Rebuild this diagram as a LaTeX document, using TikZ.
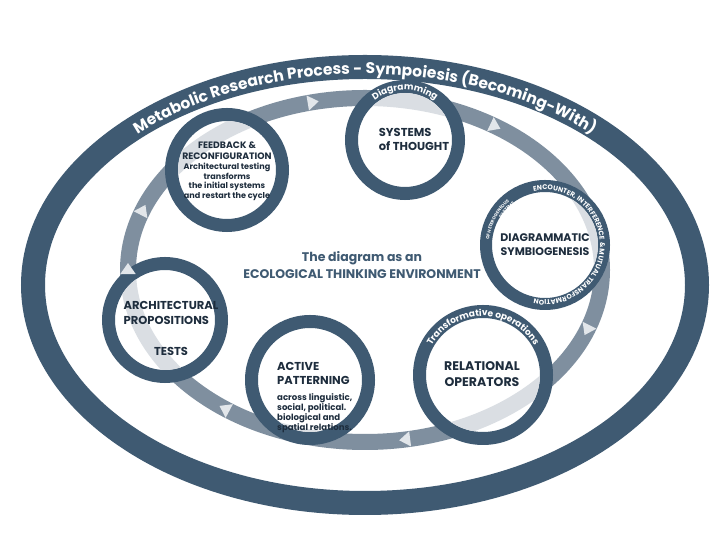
\documentclass[tikz,border=0pt]{standalone}
\usepackage{fontspec}
\setmainfont{Poppins}
\usetikzlibrary{decorations.text,shapes.geometric}
\definecolor{navy}{HTML}{3F5A72}
\definecolor{ink}{HTML}{1E2D3D}
\definecolor{band}{HTML}{7F8F9F}
\definecolor{bandlt}{HTML}{DADEE3}
\definecolor{tip}{HTML}{E2E6EA}
\tikzset{
  ring/.style={circle,draw=navy,line width=13pt,fill=white,inner sep=0pt},
  ttl/.style={text=ink,font=\bfseries\fontsize{11.5}{14}\selectfont,align=center,inner sep=0pt},
  sub/.style={text=ink,font=\bfseries\fontsize{8.6}{10}\selectfont,align=center,inner sep=0pt},
  tipsty/.style={isosceles triangle,isosceles triangle apex angle=70,fill=tip,inner sep=0pt,minimum height=11pt,minimum width=13pt},
}
\begin{document}
\begin{tikzpicture}[x=1pt,y=1pt]
\useasboundingbox (0,0) rectangle (720,540);
\fill[white] (0,0) rectangle (720,540);
% outer ellipse
\draw[navy,line width=24pt] (365,255) ellipse [x radius=332,y radius=218];
\path[decorate,decoration={text along path,text align=center,
  text={|\color{white}\bfseries\fontsize{15.5}{15.5}\selectfont|Metabolic Research Process - Sympoiesis (Becoming-With)}}]
  (365,255) ++(165:325 and 211) arc[start angle=165,end angle=15,x radius=325,y radius=211];
% band
\draw[band,line width=16pt] (365,270) ellipse [x radius=237,y radius=172];
% circles
\foreach \n/\x/\y/\r/\w in {F/227/370/62/13,S/405/400/60/13,D/545/295/65/12,A/165/220/63/13,P/310/160/65/13,R/483/165/70/13}{
  \node[ring,line width=\w pt,minimum size={2*\r-\w}] (\n) at (\x,\y) {};
  \begin{scope}
    \clip (\x,\y) circle ({\r-\w});
    \draw[bandlt,line width=16pt] (365,270) ellipse [x radius=237,y radius=172];
  \end{scope}
}
% arrow tips
\foreach \t in {103,57,-20,-80,-126,180,160}{
  \node[tipsty,rotate={atan2(-172*cos(\t),237*sin(\t))}] at ({365+237*cos(\t)},{270+172*sin(\t)}) {};
}
% texts in circles
\node[ttl,font=\bfseries\fontsize{9.3}{11.3}\selectfont] (Ft) at (227,389) {FEEDBACK \&\\RECONFIGURATION};
\node[sub,anchor=north,font=\bfseries\fontsize{8.1}{9.6}\selectfont] (Fs) at (227,377) {Architectural testing\\transforms\\the initial systems\\and restart the cycle};
\node[ttl,align=left] (St) at (414,401) {SYSTEMS\\of THOUGHT};
\node[ttl,font=\bfseries\fontsize{11}{14}\selectfont] (Dt) at (545,295) {DIAGRAMMATIC\\SYMBIOGENESIS};
\node[ttl,align=left,font=\bfseries\fontsize{11.5}{15.5}\selectfont] (At) at (171,227) {ARCHITECTURAL\\PROPOSITIONS};
\node[ttl] (Ax) at (171,189) {TESTS};
\node[ttl,align=left,anchor=north west,font=\bfseries\fontsize{11.5}{14}\selectfont] (Pt) at (277,178) {ACTIVE\\PATTERNING};
\node[sub,align=left,anchor=north west] (Ps) at (277,147) {across linguistic,\\social, political.\\biological and\\spatial relations.};
\node[ttl,font=\bfseries\fontsize{12.5}{15.5}\selectfont] (Rt) at (482,166) {RELATIONAL\\OPERATORS};
% center
\node[text=navy,font=\bfseries\fontsize{12.5}{17}\selectfont,align=center] (C) at (362,275) {The diagram as an\\ECOLOGICAL THINKING ENVIRONMENT};
% ring labels
\path[decorate,decoration={text along path,text align=center,
  text={|\color{white}\bfseries\fontsize{9}{9}\selectfont|Diagramming}}]
  (405,400) ++(140:50) arc[start angle=140,end angle=40,radius=50];
\path[decorate,decoration={text along path,text align=center,
  text={|\color{white}\bfseries\fontsize{9}{9}\selectfont|Transformative operations}}]
  (483,165) ++(185:59) arc[start angle=185,end angle=-5,radius=59];
\path[decorate,decoration={text along path,text align=left,
  text={|\color{white}\bfseries\fontsize{6.8}{6.8}\selectfont|ENCOUNTER{,} INTERFERENCE {\&} MUTUAL TRANSFORMATION}}]
  (545,295) ++(102:55) arc[start angle=102,end angle=-160,radius=55];
\path[decorate,decoration={text along path,text align=center,
  text={|\color{white}\bfseries\fontsize{4.4}{4.4}\selectfont|OF HETEROGENEOUS}}]
  (545,295) ++(192:56) arc[start angle=192,end angle=112,radius=56];
\path[decorate,decoration={text along path,text align=center,
  text={|\color{white}\bfseries\fontsize{4.4}{4.4}\selectfont|SYSTEMS}}]
  (545,295) ++(160:51) arc[start angle=160,end angle=115,radius=51];
\end{tikzpicture}
\end{document}
